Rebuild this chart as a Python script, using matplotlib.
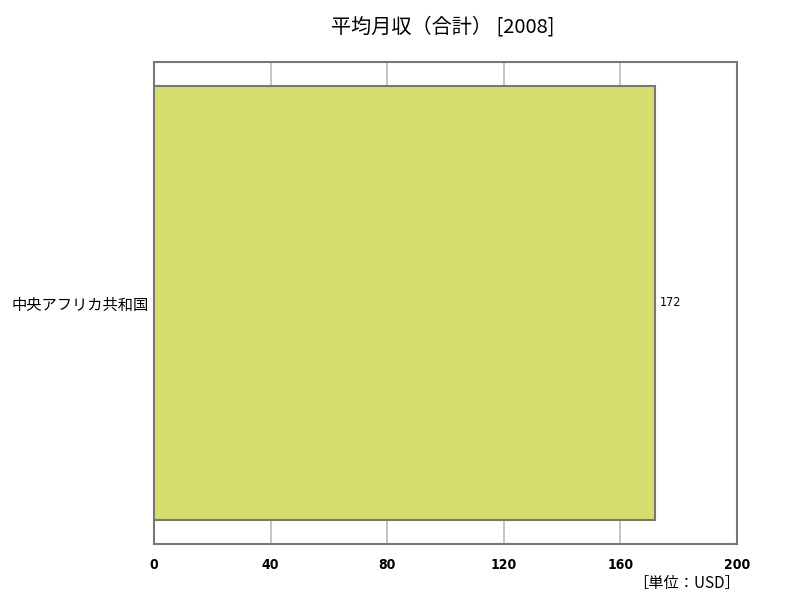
import matplotlib.pyplot as plt

plt.rcParams['font.family'] = ['Noto Sans CJK JP', 'DejaVu Sans']

# データ
countries = ["中央アフリカ共和国"]
values = [172]
xticks = [0, 40, 80, 120, 160, 200]

fig = plt.figure(figsize=(8, 6), dpi=100)
ax = fig.add_axes([0.1925, 0.0933, 0.7288, 0.8034])

ax.barh(countries, values, height=0.9, color="#d8de6e", edgecolor="#777777", linewidth=1.5, zorder=3)
for c, v in zip(countries, values):
    ax.text(v + 1.5, c, str(v), va="center", ha="left", fontsize=9,
            family="DejaVu Sans", fontstretch="condensed")

ax.set_xlim(0, 200)
ax.set_ylim(-0.5, 0.5)
ax.set_xticks(xticks)
ax.set_xticklabels([str(t) for t in xticks], family="DejaVu Sans", fontstretch="condensed",
                   fontsize=10, fontweight="bold")
ax.tick_params(axis="x", length=0, pad=10)
ax.tick_params(axis="y", length=0, pad=4, labelsize=11)
ax.grid(axis="x", color="#bbbbbb", linewidth=1.2, zorder=0)
for s in ax.spines.values():
    s.set_color("#777777")
    s.set_linewidth(1.5)

fig.text(0.554, 0.955, "平均月収（合計） [2008]", ha="center", va="center", fontsize=14.5)
fig.text(0.925, 0.027, "［単位：USD］", ha="right", va="center", fontsize=11)

plt.savefig("out.png")
